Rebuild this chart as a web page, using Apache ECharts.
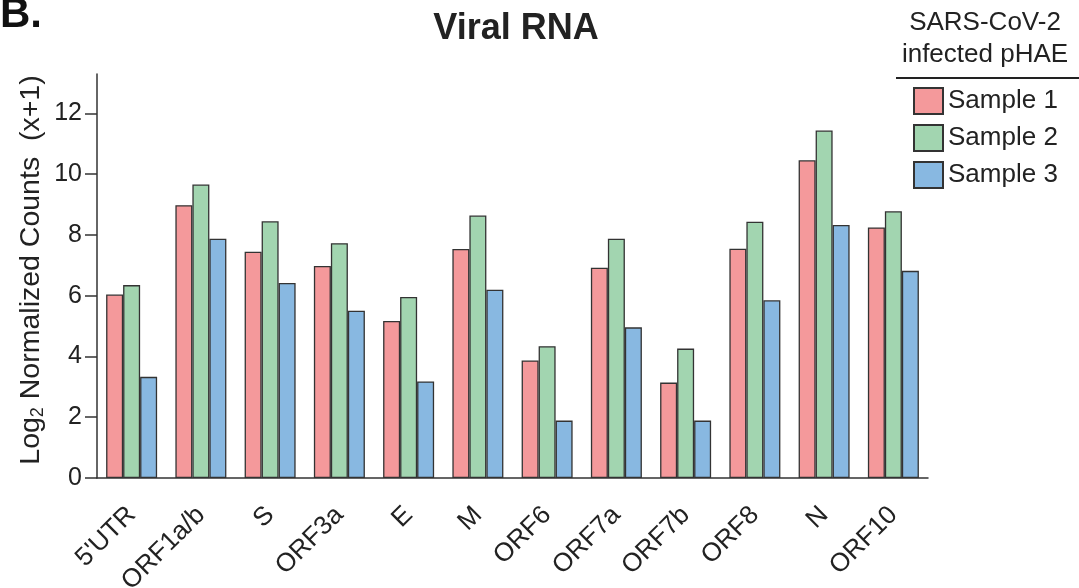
<!DOCTYPE html>
<html>
<head>
<meta charset="utf-8">
<script src="https://cdn.jsdelivr.net/npm/echarts@6/dist/echarts.min.js"></script>
<style>
html,body{margin:0;padding:0;background:#fff;}
#chart{width:1079px;height:588px;}
</style>
</head>
<body>
<div id="chart"></div>
<script>
const categories = ["5'UTR", "ORF1a/b", "S", "ORF3a", "E", "M", "ORF6", "ORF7a", "ORF7b", "ORF8", "N", "ORF10"];
const sample1 = [6.04, 8.98, 7.45, 6.98, 5.17, 7.54, 3.87, 6.92, 3.14, 7.55, 10.46, 8.25];
const sample2 = [6.35, 9.66, 8.45, 7.73, 5.96, 8.64, 4.34, 7.88, 4.26, 8.44, 11.44, 8.78];
const sample3 = [3.33, 7.88, 6.42, 5.51, 3.18, 6.20, 1.89, 4.96, 1.89, 5.85, 8.33, 6.82];
const seriesNames = ["Sample 1", "Sample 2", "Sample 3"];
const yTicks = [0, 2, 4, 6, 8, 10, 12];

const colors = ['#F4999B', '#A2D5B0', '#88B8E1'];
const font = 'Arial, "Liberation Sans", Helvetica, sans-serif';
const chart = echarts.init(document.getElementById('chart'), null, {renderer: 'canvas'});

function mkSeries(name, data, color) {
  return {
    name: name, type: 'bar', data: data,
    barWidth: 17, barGap: '0%',
    itemStyle: {color: color, borderColor: '#333', borderWidth: 1.3},
    emphasis: {disabled: true}
  };
}

chart.setOption({
  animation: false,
  textStyle: {fontFamily: font},
  grid: {left: 97, right: 151, top: 74, bottom: 110, containLabel: false, outerBoundsMode: 'none'},
  xAxis: {
    type: 'category', data: categories,
    axisLine: {lineStyle: {color: '#333', width: 1.5}},
    axisTick: {alignWithLabel: true, length: 10, lineStyle: {color: '#333', width: 1.5}},
    axisLabel: {rotate: 45, margin: 33, fontSize: 26, color: '#222', fontFamily: font, interval: 0}
  },
  yAxis: {
    type: 'value', min: 0, max: 13.3, interval: 2,
    axisLine: {show: true, lineStyle: {color: '#333', width: 1.5}},
    axisTick: {show: true, length: 12, lineStyle: {color: '#333', width: 1.5}},
    axisLabel: {fontSize: 25, color: '#222', margin: 15, fontFamily: font, showMaxLabel: false,
      formatter: function (v) { return yTicks.indexOf(v) >= 0 ? String(v) : ''; }},
    splitLine: {show: false}
  },
  legend: {
    data: seriesNames, orient: 'vertical', left: 913, top: 87, padding: 0,
    itemWidth: 29, itemHeight: 26, itemGap: 9, icon: 'rect',
    selectedMode: false,
    textStyle: {fontSize: 26, color: '#222', fontFamily: font}
  },
  graphic: [
    {type: 'text', left: 0, top: -6, style: {text: 'B.', font: 'bold 42px ' + font, fill: '#111'}},
    {type: 'text', x: 516, y: 29, style: {text: 'Viral RNA', font: 'bold 36px ' + font, fill: '#222', textAlign: 'center', textVerticalAlign: 'middle'}},
    {type: 'text', x: 985, y: 23, style: {text: 'SARS-CoV-2', font: '26px ' + font, fill: '#222', textAlign: 'center', textVerticalAlign: 'middle'}},
    {type: 'text', x: 985, y: 55, style: {text: 'infected pHAE', font: '26px ' + font, fill: '#222', textAlign: 'center', textVerticalAlign: 'middle'}},
    {type: 'line', shape: {x1: 896, y1: 78, x2: 1079, y2: 78}, style: {stroke: '#222', lineWidth: 2}},
    {type: 'text', x: 31, y: 270, rotation: Math.PI / 2,
      style: {
        text: '{a|Log}{s|2}{a| Normalized Counts  (x+1)}',
        textAlign: 'center', textVerticalAlign: 'middle',
        rich: {
          a: {fontSize: 28.5, fontFamily: font, fill: '#222', color: '#222'},
          s: {fontSize: 18, fontFamily: font, fill: '#222', color: '#222', padding: [14, 0, 0, 0], verticalAlign: 'bottom'}
        }
      }}
  ],
  series: [
    mkSeries(seriesNames[0], sample1, colors[0]),
    mkSeries(seriesNames[1], sample2, colors[1]),
    mkSeries(seriesNames[2], sample3, colors[2])
  ]
});
</script>
</body>
</html>
